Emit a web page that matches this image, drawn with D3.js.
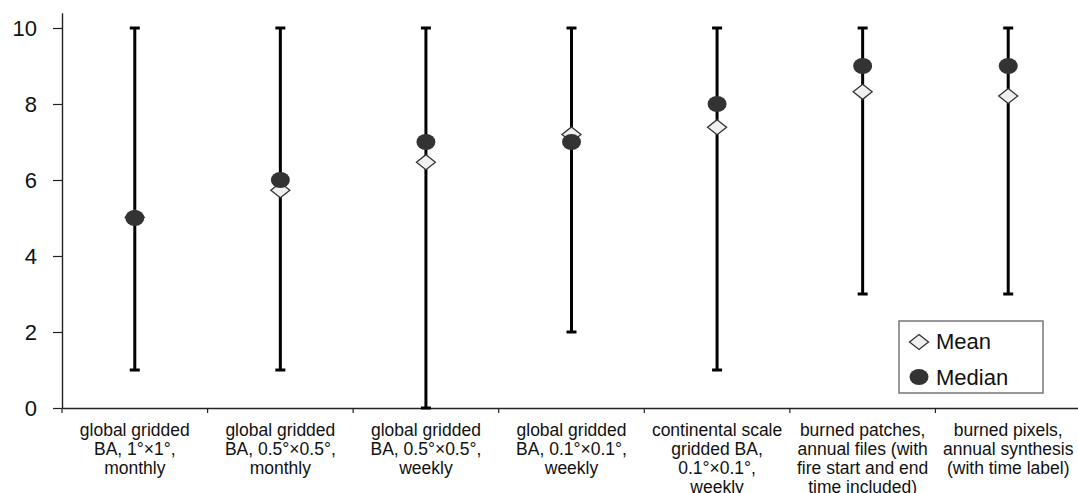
<!DOCTYPE html>
<html>
<head>
<meta charset="utf-8">
<script src="https://cdn.jsdelivr.net/npm/d3@7"></script>
<style>
  html, body { margin: 0; padding: 0; background: #fff; }
  svg { display: block; font-family: "Liberation Sans", Arial, sans-serif; }
</style>
</head>
<body>
<svg id="chart" width="1078" height="493"></svg>
<script>
const categories = [
  ["global gridded", "BA, 1°×1°,", "monthly"],
  ["global gridded", "BA, 0.5°×0.5°,", "monthly"],
  ["global gridded", "BA, 0.5°×0.5°,", "weekly"],
  ["global gridded", "BA, 0.1°×0.1°,", "weekly"],
  ["continental scale", "gridded BA,", "0.1°×0.1°,", "weekly"],
  ["burned patches,", "annual files (with", "fire start and end", "time included)"],
  ["burned pixels,", "annual synthesis", "(with time label)"]
];
const minValues    = [1, 1, 0, 2, 1, 3, 3];
const maxValues    = [10, 10, 10, 10, 10, 10, 10];
const meanValues   = [5.02, 5.73, 6.47, 7.2, 7.39, 8.32, 8.21];
const medianValues = [5, 6, 7, 7, 8, 9, 9];
const yTicks = [0, 2, 4, 6, 8, 10];

const svg = d3.select("#chart");
const ids = categories.map((c, i) => i);

const x = d3.scaleBand().domain(ids).range([62, 1081]).padding(0);
const y = d3.scaleLinear().domain([0, 10.4]).range([408, 12.8]);

// Y axis
const yAxis = svg.append("g")
  .attr("transform", "translate(62,0)")
  .call(d3.axisLeft(y).tickValues(yTicks).tickSize(9).tickSizeOuter(0).tickPadding(16));
yAxis.select(".domain").attr("stroke", "#222").attr("stroke-width", 1.4);
yAxis.selectAll(".tick line").attr("stroke", "#222").attr("stroke-width", 1.2);
yAxis.selectAll(".tick text")
  .attr("font-size", 22).attr("fill", "#111")
  .attr("font-family", "'Liberation Sans', Arial, sans-serif");

// X axis
const xAxis = svg.append("g")
  .attr("transform", `translate(0,${y(0)})`)
  .call(d3.axisBottom(x).tickSize(0).tickFormat(""));
xAxis.select(".domain").attr("stroke", "#222").attr("stroke-width", 1.4);
xAxis.selectAll(".tick").remove();
const boundaries = ids.map(i => x(i));
xAxis.selectAll("line.sep").data(boundaries).enter().append("line")
  .attr("class", "sep")
  .attr("x1", d => d).attr("x2", d => d)
  .attr("y1", 0).attr("y2", 5)
  .attr("stroke", "#222").attr("stroke-width", 1.2);

// X labels
const labels = svg.append("g");
ids.forEach(i => {
  const t = labels.append("text")
    .attr("x", x(i) + x.bandwidth() / 2)
    .attr("y", 436)
    .attr("text-anchor", "middle")
    .attr("font-size", 17.5)
    .attr("fill", "#111");
  categories[i].forEach((line, k) => {
    t.append("tspan")
      .attr("x", x(i) + x.bandwidth() / 2)
      .attr("dy", k === 0 ? 0 : 19)
      .text(line);
  });
});

const cx = i => x(i) + x.bandwidth() / 2;

// Error bars (range)
const bars = svg.append("g").attr("stroke", "#000").attr("stroke-width", 3);
ids.forEach(i => {
  bars.append("line")
    .attr("x1", cx(i)).attr("x2", cx(i))
    .attr("y1", y(minValues[i])).attr("y2", y(maxValues[i]));
  [minValues[i], maxValues[i]].forEach(v => {
    bars.append("line")
      .attr("x1", cx(i) - 5).attr("x2", cx(i) + 5)
      .attr("y1", y(v)).attr("y2", y(v));
  });
});

const diamond = (px, py) => `M${px},${py - 7.5}L${px + 9.5},${py}L${px},${py + 7.5}L${px - 9.5},${py}Z`;

// Mean diamonds
svg.append("g").selectAll("path").data(ids).enter().append("path")
  .attr("d", i => diamond(cx(i), y(meanValues[i])))
  .attr("fill", "#f0f0f0").attr("stroke", "#333").attr("stroke-width", 1.3);

// Median circles
svg.append("g").selectAll("ellipse").data(ids).enter().append("ellipse")
  .attr("cx", i => cx(i)).attr("cy", i => y(medianValues[i]))
  .attr("rx", 9.5).attr("ry", 8)
  .attr("fill", "#333");

// Legend
const lg = svg.append("g");
lg.append("rect")
  .attr("x", 899).attr("y", 321).attr("width", 144).attr("height", 72)
  .attr("fill", "#fff").attr("stroke", "#777").attr("stroke-width", 1.5);
lg.append("path").attr("d", diamond(919, 342))
  .attr("fill", "#f0f0f0").attr("stroke", "#333").attr("stroke-width", 1.3);
lg.append("ellipse").attr("cx", 919).attr("cy", 377).attr("rx", 9.5).attr("ry", 8).attr("fill", "#333");
lg.append("text").attr("x", 936).attr("y", 349).attr("font-size", 22).attr("fill", "#111").text("Mean");
lg.append("text").attr("x", 936).attr("y", 385).attr("font-size", 22).attr("fill", "#111").text("Median");
</script>
</body>
</html>
